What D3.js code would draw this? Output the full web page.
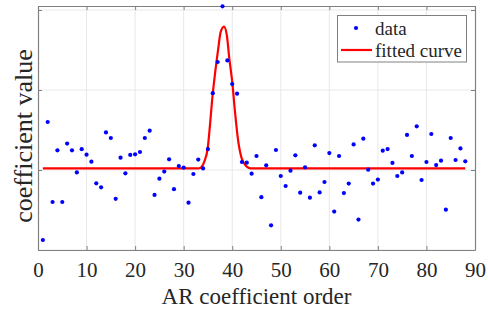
<!DOCTYPE html>
<html><head><meta charset="utf-8">
<script src="https://cdn.jsdelivr.net/npm/d3@7"></script>
<style>body{margin:0;background:#fff}svg{display:block}svg text{font-family:"Liberation Serif","Times New Roman",serif !important}</style>
</head><body><svg id="c" width="488" height="309"></svg>
<script>
const dataX = d3.range(1, 89);
const dataY = [-0.4375,0.30,-0.20,0.123,-0.20,0.165,0.123,-0.015,0.13,0.096,
0.052,-0.083,-0.108,0.235,0.20,-0.18,0.077,-0.021,0.094,0.098,
0.1125,0.20,0.246,-0.156,-0.054,-0.01,0.067,-0.12,0.025,0.015,
-0.204,-0.025,0.065,0.01,0.131,0.48,0.675,1.023,0.685,0.5375,
0.477,0.05,0.046,-0.023,0.0875,-0.17,0.029,-0.346,0.125,-0.0375,
-0.1,-0.004,0.092,-0.142,0.017,-0.173,0.154,-0.14,-0.075,0.106,
-0.26,0.0875,-0.144,-0.085,0.16,-0.31,0.196,0.002,-0.085,-0.06,
0.121,0.131,0.044,-0.0375,-0.015,0.219,0.0875,0.273,-0.0625,0.05,
0.225,0.031,0.058,-0.248,0.20,0.0625,0.135,0.054];
const curveX = [1,33,33.4,34.25,34.95,35.42,35.9,36.45,37.13,37.6,38.3,38.9,39.4,40.0,40.57,41.25,41.95,42.5,42.98,43.8,88];
const curveY = [0.0106,0.0106,0.013,0.052,0.136,0.281,0.45,0.60,0.76,0.86,0.896,0.84,0.698,0.552,0.364,0.177,0.073,0.04,0.021,0.0106,0.0106];
const xTicks = [0,10,20,30,40,50,60,70,80,90];
const yTicks = [-0.5,0,0.5,1];
const legendLabels = ["data","fitted curve"];

const L=38, R=475, T=6, B=250;
const svg = d3.select("#c");
const x = d3.scaleLinear().domain([0,90]).range([L,R]);
const y = d3.scaleLinear().domain([-0.5,1.025]).range([B,T]);
const axisCol = "#808080", gridCol = "#e8e8e8";
const serif = '"Liberation Serif","Times New Roman",serif';

// grid
svg.append("g").selectAll("line.gx").data(xTicks.slice(1,-1)).join("line")
  .attr("x1",d=>x(d)).attr("x2",d=>x(d)).attr("y1",T).attr("y2",B)
  .attr("stroke",gridCol).attr("stroke-width",1);
svg.append("g").selectAll("line.gy").data(yTicks).join("line")
  .attr("x1",L).attr("x2",R).attr("y1",d=>y(d)).attr("y2",d=>y(d))
  .attr("stroke",gridCol).attr("stroke-width",1);

// axes
const gb = svg.append("g").attr("transform",`translate(0,${B})`)
  .call(d3.axisBottom(x).tickValues(xTicks).tickSizeInner(-4).tickSizeOuter(0).tickPadding(12));
const gt = svg.append("g").attr("transform",`translate(0,${T})`)
  .call(d3.axisTop(x).tickValues(xTicks).tickSizeInner(-4).tickSizeOuter(0).tickFormat(""));
const gl = svg.append("g").attr("transform",`translate(${L},0)`)
  .call(d3.axisLeft(y).tickValues(yTicks).tickSizeInner(-4).tickSizeOuter(0).tickFormat(""));
const gr = svg.append("g").attr("transform",`translate(${R},0)`)
  .call(d3.axisRight(y).tickValues(yTicks).tickSizeInner(-4).tickSizeOuter(0).tickFormat(""));
[gb,gt,gl,gr].forEach(g=>{
  g.attr("font-family",serif);
  g.selectAll("path,line").attr("stroke",axisCol);
  g.select("path.domain").attr("stroke-width",1.2);
});
gb.selectAll("text").attr("font-size",21).attr("fill","#262626").style("font-family",serif);

// curve
const line = d3.line().x((d,i)=>x(curveX[i])).y(d=>y(d)).curve(d3.curveMonotoneX);
svg.append("path").datum(curveY).attr("d",line).attr("fill","none")
  .attr("stroke","#ff0000").attr("stroke-width",2.2);

// points
svg.append("g").selectAll("circle").data(dataY).join("circle")
  .attr("cx",(d,i)=>x(dataX[i])).attr("cy",d=>y(d)).attr("r",2.1).attr("fill","#0000ff");

// labels
svg.append("text").attr("x",(L+R)/2).attr("y",304).attr("text-anchor","middle")
  .attr("font-size",23).attr("fill","#262626").style("font-family",serif).text("AR coefficient order");
svg.append("text").attr("transform",`translate(32,${(T+B)/2+8}) rotate(-90)`).attr("text-anchor","middle")
  .attr("font-size",26).attr("fill","#262626").style("font-family",serif).text("coefficient value");

// legend
const lg = svg.append("g");
lg.append("rect").attr("x",337.5).attr("y",15.5).attr("width",129).attr("height",46.5)
  .attr("fill","#fff").attr("stroke",axisCol).attr("stroke-width",1);
lg.append("circle").attr("cx",356).attr("cy",28).attr("r",2.1).attr("fill","#0000ff");
lg.append("line").attr("x1",341).attr("x2",372).attr("y1",50).attr("y2",50)
  .attr("stroke","#ff0000").attr("stroke-width",2.2);
lg.selectAll("text.lt").data(legendLabels).join("text")
  .attr("x",375).attr("y",(d,i)=>35+i*22).attr("font-size",19).attr("fill","#262626")
  .style("font-family",serif).text(d=>d);
</script></body></html>
